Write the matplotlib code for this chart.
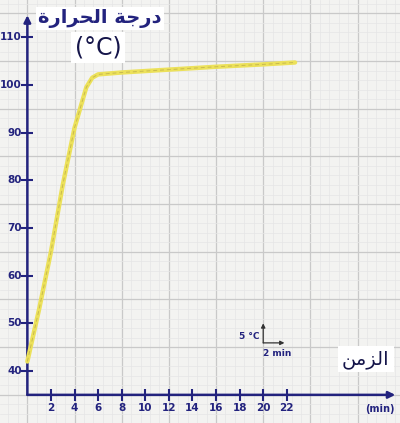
import numpy as np
import matplotlib.pyplot as plt

# heating curve
time_min = [0, 1, 2, 3, 4, 5, 5.5, 6, 8, 12, 16, 20, 22.7]
temp_c = [42, 53, 65, 79, 91, 99.5, 101.5, 102.2, 102.6, 103.2, 103.8, 104.3, 104.7]

x_ticks = [2, 4, 6, 8, 10, 12, 14, 16, 18, 20, 22]
y_ticks = [40, 50, 60, 70, 80, 90, 100, 110]

# Arabic written with presentation forms in visual order (no shaping in matplotlib)
title_y = "\uFE93\uFEAD\uFE8D\uFEAE\uFEA4\uFEDF\uFE8D \uFE94\uFE9F\uFEAD\uFEA9"   # درجة الحرارة
title_x = "\uFEE6\uFEE3\uFEB0\uFEDF\uFE8D"                                        # الزمن

navy = "#23237e"

fig = plt.figure(figsize=(4, 4.23), dpi=100)
fig.patch.set_facecolor("#f3f3f1")
ax = fig.add_axes([0, 0, 1, 1])
ax.set_facecolor("#f3f3f1")
ax.set_xlim(-2.32, 31.6)
ax.set_ylim(29.1, 117.8)

# graph paper
for gx in np.arange(-2.4, 32, 0.8):
    ax.axvline(gx, color="#e6e6e6", lw=0.5, zorder=0)
for gx in np.arange(-4, 32, 4):
    ax.axvline(gx, color="#c9c9c9", lw=0.9, zorder=0)
for gy in np.arange(29, 118, 2):
    ax.axhline(gy, color="#e6e6e6", lw=0.5, zorder=0)
for gy in np.arange(25, 118, 10):
    ax.axhline(gy, color="#c9c9c9", lw=0.9, zorder=0)

for s in ax.spines.values():
    s.set_visible(False)
ax.set_xticks([])
ax.set_yticks([])

# axes with arrows
ax.annotate("", xy=(0, 114.6), xytext=(0, 35),
            arrowprops=dict(arrowstyle="-|>", color=navy, lw=1.8, mutation_scale=10,
                            shrinkA=0, shrinkB=0))
ax.annotate("", xy=(31.2, 35), xytext=(0, 35),
            arrowprops=dict(arrowstyle="-|>", color=navy, lw=1.8, mutation_scale=10,
                            shrinkA=0, shrinkB=0))

# ticks and labels
ax.plot([0] * len(y_ticks), y_ticks, ls="none", marker="_", ms=8, mew=1.5, color=navy)
for v in y_ticks:
    ax.text(-0.45, v, str(v), ha="right", va="center", fontsize=7.5,
            color=navy, fontweight="bold")
ax.plot(x_ticks, [35] * len(x_ticks), ls="none", marker="|", ms=8, mew=1.5, color=navy)
for v in x_ticks:
    ax.text(v, 33.2, str(v), ha="center", va="top", fontsize=7.5,
            color=navy, fontweight="bold")
ax.text(29.9, 33.0, "(min)", ha="center", va="top", fontsize=7, color=navy,
        fontweight="bold")

# the curve
ax.plot(time_min, temp_c, color="#ece15a", lw=3.2, solid_capstyle="round", zorder=3)
ax.plot(time_min, temp_c, color="#b9a94a", lw=0.7, ls=(0, (4, 3)), alpha=0.7, zorder=4)

# titles
ax.text(6.15, 114.0, title_y, ha="center", va="center", fontsize=14, color=navy,
        family=["DejaVu Sans"], fontweight="bold",
        bbox=dict(boxstyle="square,pad=0.1", fc="white", ec="none"))
ax.text(6.0, 107.8, "(°C)", ha="center", va="center", fontsize=17, color="#15154a",
        bbox=dict(boxstyle="square,pad=0.15", fc="white", ec="none"))
ax.text(28.7, 42.5, title_x, ha="center", va="center", fontsize=14, color="#15154a",
        family=["DejaVu Sans"],
        bbox=dict(boxstyle="square,pad=0.2", fc="white", ec="none"))

# scale key
ax.annotate("", xy=(20.0, 50.0), xytext=(20.0, 45.9),
            arrowprops=dict(arrowstyle="-|>", color="#333333", lw=0.9, mutation_scale=6,
                            shrinkA=0, shrinkB=0))
ax.annotate("", xy=(21.8, 45.9), xytext=(20.0, 45.9),
            arrowprops=dict(arrowstyle="-|>", color="#333333", lw=0.9, mutation_scale=6,
                            shrinkA=0, shrinkB=0))
ax.text(19.7, 47.2, "5 °C", ha="right", va="center", fontsize=6.5, color=navy,
        fontweight="bold")
ax.text(20.0, 44.6, "2 min", ha="left", va="top", fontsize=6.5, color=navy,
        fontweight="bold")

fig.savefig("out.png", dpi=100, facecolor=fig.get_facecolor())
